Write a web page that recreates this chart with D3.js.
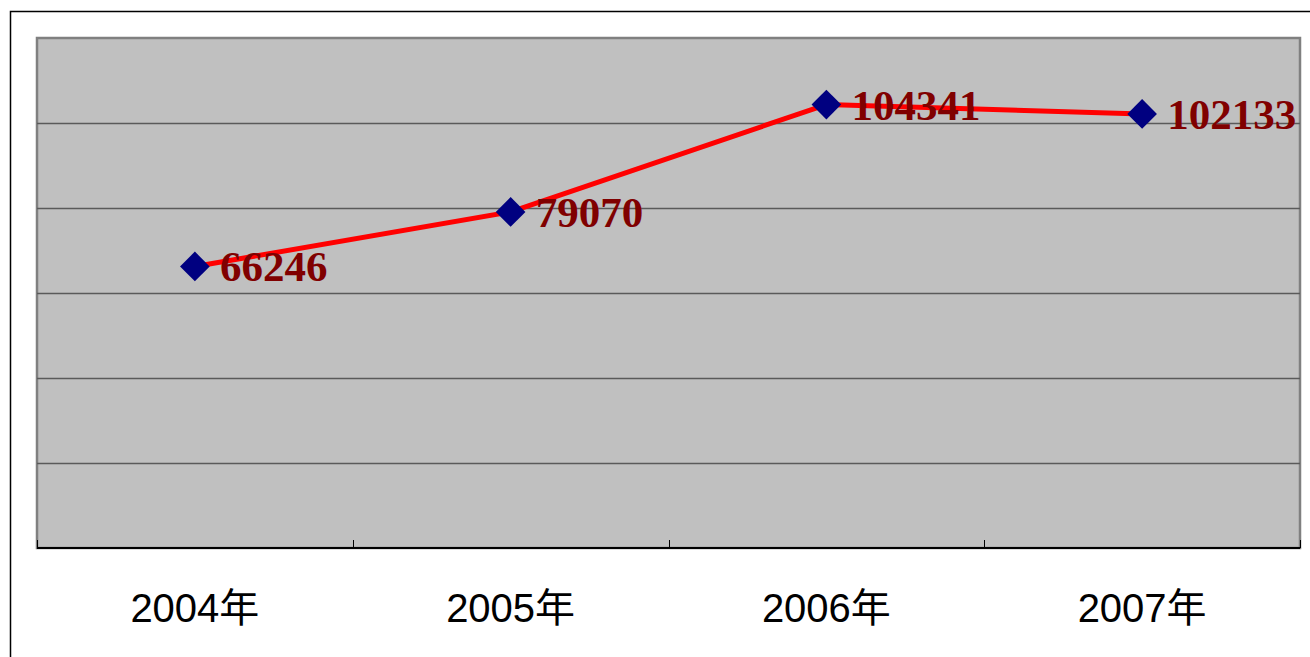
<!DOCTYPE html>
<html>
<head>
<meta charset="utf-8">
<script src="https://cdn.jsdelivr.net/npm/d3@7"></script>
<style>
  html, body { margin: 0; padding: 0; background: #fff; }
  svg { display: block; }
</style>
</head>
<body>
<svg id="chart" width="1310" height="657"></svg>
<script>
  // 数据
  let years = ["2004年", "2005年", "2006年", "2007年"];
  let values = [66246, 79070, 104341, 102133];
  let yTicks = [0, 20000, 40000, 60000, 80000, 100000, 120000];

  let width = 1310;
  let height = 657;
  let plot = { left: 37, top: 38, right: 1300, bottom: 548 };

  let svg = d3.select("#chart");

  // 外框
  svg.append("path")
    .attr("d", `M10.5,${height} V11.5 H${width}`)
    .attr("fill", "none")
    .attr("stroke", "#000")
    .attr("stroke-width", 1.5);

  let x = d3.scaleBand()
    .domain(years)
    .range([plot.left, plot.right]);

  let y = d3.scaleLinear()
    .domain([0, 120000])
    .range([plot.bottom, plot.top]);

  // 绘图区背景
  svg.append("rect")
    .attr("x", plot.left)
    .attr("y", plot.top)
    .attr("width", plot.right - plot.left)
    .attr("height", plot.bottom - plot.top)
    .attr("fill", "#c0c0c0")
    .attr("stroke", "#808080")
    .attr("stroke-width", 2.5);

  // 网格线
  svg.append("g")
    .selectAll("line")
    .data(yTicks.slice(1, -1))
    .join("line")
    .attr("x1", plot.left)
    .attr("x2", plot.right)
    .attr("y1", (d) => Math.round(y(d)) + 0.5)
    .attr("y2", (d) => Math.round(y(d)) + 0.5)
    .attr("stroke", "#5a5a5a")
    .attr("stroke-width", 1.5);

  // x 轴
  let xAxis = svg.append("g")
    .attr("transform", `translate(0,${plot.bottom})`);
  xAxis.append("line")
    .attr("x1", plot.left)
    .attr("x2", plot.right)
    .attr("stroke", "#000")
    .attr("stroke-width", 2);
  let bounds = years.map((d) => x(d)).concat([plot.right]);
  xAxis.selectAll("line.tick")
    .data(bounds)
    .join("line")
    .attr("class", "tick")
    .attr("x1", (d) => Math.round(d) + 0.5)
    .attr("x2", (d) => Math.round(d) + 0.5)
    .attr("y1", 0)
    .attr("y2", -8)
    .attr("stroke", "#000")
    .attr("stroke-width", 1);
  xAxis.selectAll("text")
    .data(years)
    .join("text")
    .attr("x", (d) => x(d) + x.bandwidth() / 2)
    .attr("y", 74)
    .attr("text-anchor", "middle")
    .attr("font-family", "'Liberation Sans', Arial, 'Noto Sans CJK SC', sans-serif")
    .attr("font-size", 40)
    .attr("fill", "#000")
    .text((d) => d);

  let pts = years.map((d, i) => ({ year: d, value: values[i] }));

  // 折线
  let line = d3.line()
    .x((d) => x(d.year) + x.bandwidth() / 2)
    .y((d) => y(d.value));
  svg.append("path")
    .datum(pts)
    .attr("d", line)
    .attr("fill", "none")
    .attr("stroke", "#ff0000")
    .attr("stroke-width", 5)
    .attr("stroke-linejoin", "round");

  // 菱形标记
  let diamond = d3.symbol().type(d3.symbolSquare).size(440);
  svg.append("g")
    .selectAll("path")
    .data(pts)
    .join("path")
    .attr("d", diamond)
    .attr("transform", (d) => `translate(${x(d.year) + x.bandwidth() / 2},${y(d.value)}) rotate(45)`)
    .attr("fill", "#000080");

  // 数据标签
  svg.append("g")
    .selectAll("text")
    .data(pts)
    .join("text")
    .attr("x", (d) => x(d.year) + x.bandwidth() / 2 + 25)
    .attr("y", (d) => y(d.value) + 15)
    .attr("font-family", "'Liberation Serif', 'Times New Roman', serif")
    .attr("font-weight", "bold")
    .attr("font-size", 43)
    .attr("fill", "#800000")
    .text((d) => d.value);
</script>
</body>
</html>
